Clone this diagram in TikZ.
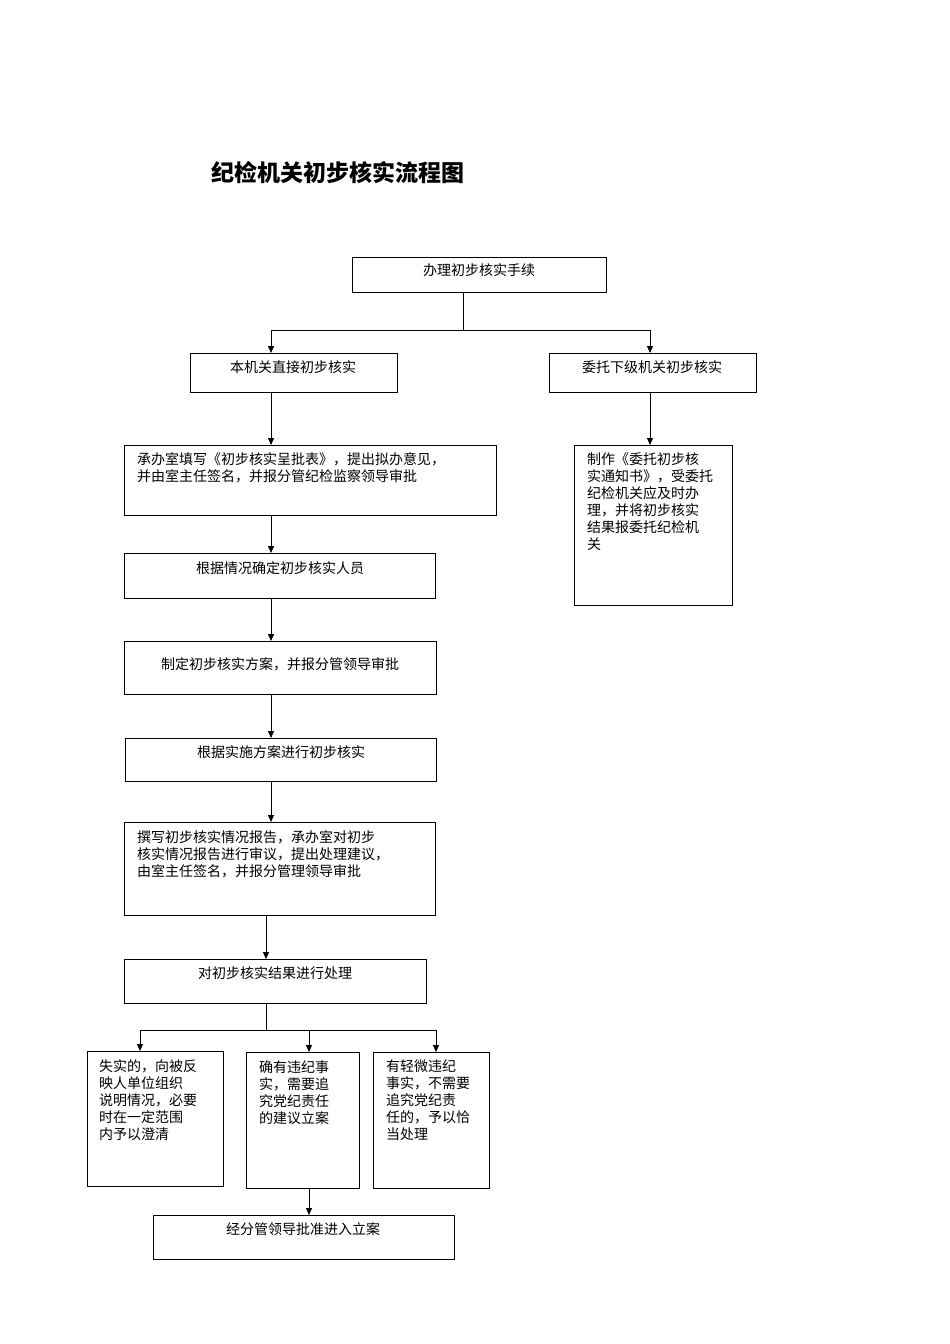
\documentclass[tikz,border=0pt]{standalone}
\usepackage{fontspec}
\setmainfont{Noto Sans CJK SC}
\usetikzlibrary{arrows.meta}
\tikzset{x=1pt,y=-1pt,
 bx/.style={draw,line width=0.8pt,anchor=north west,inner sep=0pt},
 tx/.style={anchor=north west,font=\fontsize{14}{17}\selectfont,align=left,inner sep=0pt},
 ar/.style={-{Triangle[length=7pt,width=6pt]},line width=0.8pt},
 ln/.style={line width=0.8pt}}
\newcommand\bbox[6]{% name x1 y1 x2 y2 text-xoffset/width text
 \node[bx,minimum width=#4-#2,minimum height=#5-#3] (#1) at (#2,#3) {};}
\begin{document}
\begin{tikzpicture}
\useasboundingbox (0,0) rectangle (950,1344);
\node[anchor=west,font=\fontsize{23}{26}\selectfont\bfseries] (title) at (208,173) {纪检机关初步核实流程图};
\bbox{A}{352}{257}{606}{292}{}
\bbox{B}{190}{353}{397}{392}{}
\bbox{C}{549}{353}{756}{392}{}
\bbox{D}{124}{445}{496}{515}{}
\bbox{C2}{574}{445}{732}{605}{}
\bbox{E}{124}{553}{435}{598}{}
\bbox{F}{124}{641}{436}{694}{}
\bbox{G}{125}{738}{436}{781}{}
\bbox{H}{124}{822}{435}{915}{}
\bbox{I}{124}{959}{426}{1003}{}
\bbox{J1}{87}{1051}{223}{1186}{}
\bbox{J2}{246}{1052}{359}{1188}{}
\bbox{J3}{373}{1052}{489}{1188}{}
\bbox{K}{153}{1215}{454}{1259}{}
\node[tx,anchor=north] (tA) at (479,263) {办理初步核实手续};
\node[tx,anchor=north] (tB) at (293,360) {本机关直接初步核实};
\node[tx,anchor=north] (tC) at (652,360) {委托下级机关初步核实};
\node[tx,text width=340pt] (tD) at (137,452) {承办室填写《初步核实呈批表》，提出拟办意见，\\并由室主任签名，并报分管纪检监察领导审批};
\node[tx,text width=130pt] (tC2) at (587,452) {制作《委托初步核\\实通知书》，受委托\\纪检机关应及时办\\理，并将初步核实\\结果报委托纪检机\\关};
\node[tx,anchor=north] (tE) at (280,561) {根据情况确定初步核实人员};
\node[tx,anchor=north] (tF) at (280,657) {制定初步核实方案，并报分管领导审批};
\node[tx,anchor=north] (tG) at (281,745) {根据实施方案进行初步核实};
\node[tx,text width=300pt] (tH) at (137,830) {撰写初步核实情况报告，承办室对初步\\核实情况报告进行审议，提出处理建议，\\由室主任签名，并报分管理领导审批};
\node[tx,anchor=north] (tI) at (275,966) {对初步核实结果进行处理};
\node[tx,text width=115pt] (tJ1) at (99,1059) {失实的，向被反\\映人单位组织\\说明情况，必要\\时在一定范围\\内予以澄清};
\node[tx,text width=100pt] (tJ2) at (259,1060) {确有违纪事\\实，需要追\\究党纪责任\\的建议立案};
\node[tx,text width=100pt] (tJ3) at (386,1060) {有轻微违纪\\事实，不需要\\追究党纪责\\任的，予以恰\\当处理};
\node[tx,anchor=north] (tK) at (303,1222) {经分管领导批准进入立案};
\coordinate (a1) at (463,330);
\draw[ln] (A.south -| a1) -- (a1);
\draw[ln] (271,330) -- (650,330);
\draw[ar] (271,330) -- (B.north -| 271,0);
\draw[ar] (650,330) -- (C.north -| 650,0);
\draw[ar] (B.south -| 271,0) -- (D.north -| 271,0);
\draw[ar] (C.south -| 650,0) -- (C2.north -| 650,0);
\draw[ar] (D.south -| 271,0) -- (E.north -| 271,0);
\draw[ar] (E.south -| 271,0) -- (F.north -| 271,0);
\draw[ar] (F.south -| 271,0) -- (G.north -| 271,0);
\draw[ar] (G.south -| 271,0) -- (H.north -| 271,0);
\draw[ar] (H.south -| 266,0) -- (I.north -| 266,0);
\draw[ln] (I.south -| 266,0) -- (266,1030);
\draw[ln] (140,1030) -- (436,1030);
\draw[ar] (140,1030) -- (J1.north -| 140,0);
\draw[ar] (309,1030) -- (J2.north -| 309,0);
\draw[ar] (436,1030) -- (J3.north -| 436,0);
\draw[ar] (J2.south -| 309,0) -- (K.north -| 309,0);
\end{tikzpicture}
\end{document}
